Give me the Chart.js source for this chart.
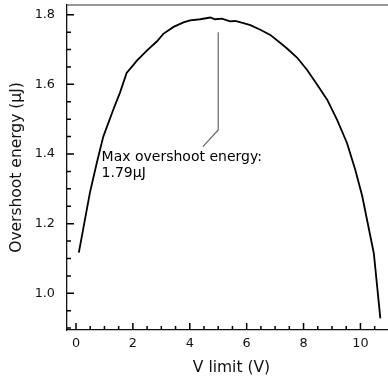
<!DOCTYPE html>
<html>
<head>
<meta charset="utf-8">
<script src="https://cdn.jsdelivr.net/npm/chart.js@4/dist/chart.umd.min.js"></script>
<style>
  html, body { margin: 0; padding: 0; background: #fff; overflow: hidden; }
  #wrap { width: 388px; height: 381px; overflow: hidden; }
</style>
</head>
<body>
<div id="wrap"><canvas id="energyChart" width="396" height="381"></canvas></div>
<script>
// V limit sweep (V) and the resulting overshoot energy (uJ)
const vLimit = [
    0.10, 0.49, 0.73, 0.96, 1.31, 1.55, 1.78,
    2.02, 2.14, 2.49, 2.84, 3.07, 3.43, 3.78, 4.01, 4.37, 4.72,
    4.89, 5.13, 5.42, 5.60, 5.89, 6.13, 6.48, 6.83, 7.12, 7.42,
    7.77, 8.12, 8.48, 8.83, 9.18, 9.53, 9.82, 10.06, 10.47, 10.70
];
const energy = [
    1.117, 1.289, 1.374, 1.450, 1.527, 1.577, 1.633,
    1.656, 1.668, 1.697, 1.723, 1.745, 1.765, 1.778, 1.784, 1.787, 1.792,
    1.787, 1.789, 1.781, 1.782, 1.776, 1.770, 1.757, 1.742, 1.723, 1.703,
    1.677, 1.642, 1.599, 1.556, 1.498, 1.431, 1.354, 1.280, 1.115, 0.928
];

const xMajorTicks = [0, 2, 4, 6, 8, 10];
const xMinorTicks = [0.5, 1, 1.5, 2.5, 3, 3.5, 4.5, 5, 5.5, 6.5, 7, 7.5, 8.5, 9, 9.5, 10.5, 11];
const yMajorTicks = [1.0, 1.2, 1.4, 1.6, 1.8];
const yMinorTicks = [0.9, 0.95, 1.05, 1.1, 1.15, 1.25, 1.3, 1.35, 1.45, 1.5, 1.55, 1.65, 1.7, 1.75];

// annotation leader (data coords) and text anchor
const leaderX = [5.0, 5.0, 4.46];
const leaderY = [1.75, 1.469, 1.421];
const noteX = 0.9;
const noteY = 1.381;

const FONT = '"DejaVu Sans", "Liberation Sans", sans-serif';
const peakLabel = `${Math.max(...energy).toFixed(2)}μJ`;

/* inward ticks, top spine and the peak annotation */
const frameAndNotes = {
    id: "frameAndNotes",
    afterDraw(chart) {
        const g = chart.ctx;
        const area = chart.chartArea;
        const xs = chart.scales.x, ys = chart.scales.y;

        g.save();
        g.setLineDash([]);

        // top spine
        g.strokeStyle = "#333";
        g.lineWidth = 1.2;
        g.beginPath();
        g.moveTo(area.left, area.top);
        g.lineTo(area.right, area.top);
        g.stroke();

        // ticks pointing into the plot
        g.strokeStyle = "#000";
        g.lineWidth = 1.5;
        g.beginPath();
        for (const v of xMajorTicks.concat(xMinorTicks)) {
            const len = xMajorTicks.includes(v) ? 7 : 4;
            const px = xs.getPixelForValue(v);
            g.moveTo(px, area.bottom);
            g.lineTo(px, area.bottom - len);
        }
        for (const v of yMajorTicks.concat(yMinorTicks)) {
            const len = yMajorTicks.includes(v) ? 7 : 4;
            const py = ys.getPixelForValue(v);
            g.moveTo(area.left, py);
            g.lineTo(area.left + len, py);
        }
        g.stroke();

        // leader line to the peak
        g.strokeStyle = "#666";
        g.lineWidth = 1.2;
        g.beginPath();
        leaderX.forEach((v, i) => {
            const px = xs.getPixelForValue(v);
            const py = ys.getPixelForValue(leaderY[i]);
            if (i === 0) g.moveTo(px, py); else g.lineTo(px, py);
        });
        g.stroke();

        // annotation text
        g.fillStyle = "#000";
        g.font = `14px ${FONT}`;
        g.textAlign = "left";
        g.textBaseline = "alphabetic";
        const tx = xs.getPixelForValue(noteX);
        const ty = ys.getPixelForValue(noteY);
        g.fillText("Max overshoot energy:", tx, ty);
        g.fillText(peakLabel, tx, ty + 16);

        g.restore();
    }
};

const ctx = document.getElementById("energyChart").getContext("2d");

new Chart(ctx, {
    type: "line",
    data: {
        datasets: [{
            data: vLimit.map((v, i) => ({ x: v, y: energy[i] })),
            borderColor: "#000",
            borderWidth: 1.8,
            pointRadius: 0,
            tension: 0,
            fill: false
        }]
    },
    options: {
        responsive: false,
        animation: false,
        devicePixelRatio: 1,
        layout: { padding: { top: 5, right: 0, bottom: 0, left: 0 } },
        plugins: {
            legend: { display: false },
            tooltip: { enabled: false }
        },
        scales: {
            x: {
                type: "linear",
                min: -0.316,
                max: 11.25,
                afterBuildTicks: s => { s.ticks = xMajorTicks.map(v => ({ value: v })); },
                afterFit: s => { s.height = 51; s.paddingLeft = 0; s.paddingRight = 0; },
                grid: { display: false, drawTicks: false },
                border: { display: true, color: "#111", width: 1.3 },
                ticks: {
                    padding: 6,
                    color: "#111",
                    maxRotation: 0,
                    autoSkip: false,
                    font: { family: FONT, size: 12.8 }
                },
                title: {
                    display: true,
                    text: "V limit (V)",
                    color: "#111",
                    font: { family: FONT, size: 15.5 },
                    padding: { top: 0, bottom: 4 }
                }
            },
            y: {
                type: "linear",
                min: 0.8946,
                max: 1.8279,
                afterBuildTicks: s => { s.ticks = yMajorTicks.map(v => ({ value: v })); },
                afterFit: s => { s.width = 67; s.paddingTop = 0; s.paddingBottom = 0; },
                grid: { display: false, drawTicks: false },
                border: { display: true, color: "#111", width: 1.3 },
                ticks: {
                    padding: 12,
                    color: "#111",
                    autoSkip: false,
                    font: { family: FONT, size: 12.8 },
                    callback: v => v.toFixed(1)
                },
                title: {
                    display: true,
                    text: "Overshoot energy (μJ)",
                    color: "#111",
                    font: { family: FONT, size: 15.5 },
                    padding: { top: 8, bottom: 0 }
                }
            }
        }
    },
    plugins: [frameAndNotes]
});
</script>
</body>
</html>
